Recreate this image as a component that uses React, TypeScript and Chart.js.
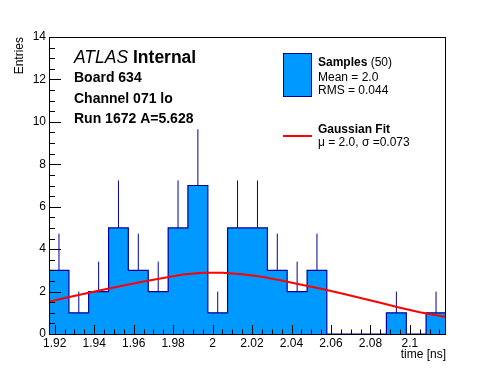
import { useEffect, useRef } from 'react';
import { Chart, registerables } from 'chart.js';

Chart.register(...registerables);

// ---- data ----
const binEdges = [
  1.9171, 1.9272, 1.9372, 1.9473, 1.9573, 1.9674, 1.9775, 1.9875, 1.9976, 2.0076,
  2.0177, 2.0278, 2.0378, 2.0479, 2.0579, 2.068, 2.0781, 2.0881, 2.0982, 2.1082, 2.1183,
];
const counts = [3, 1, 2, 5, 3, 2, 5, 7, 1, 5, 5, 3, 2, 3, 0, 0, 0, 1, 0, 1];
const errors = [1.73, 1, 1.41, 2.24, 1.73, 1.41, 2.24, 2.65, 1, 2.24, 2.24, 1.73, 1.41, 1.73, 0, 0, 0, 1, 0, 1];

const fitX = [
  1.9171, 1.925, 1.935, 1.945, 1.955, 1.965, 1.975, 1.985, 1.995, 2.005, 2.015,
  2.025, 2.035, 2.045, 2.055, 2.065, 2.075, 2.085, 2.095, 2.105, 2.1183,
];
const fitY = [
  1.52, 1.7, 1.9, 2.1, 2.29, 2.47, 2.64, 2.8, 2.89, 2.89, 2.82,
  2.7, 2.52, 2.32, 2.13, 1.92, 1.7, 1.47, 1.24, 1.03, 0.8,
];

const xTicks = [1.92, 1.94, 1.96, 1.98, 2.0, 2.02, 2.04, 2.06, 2.08, 2.1];
const xTickLabels = ['1.92', '1.94', '1.96', '1.98', '2', '2.02', '2.04', '2.06', '2.08', '2.1'];
const yTicks = [0, 2, 4, 6, 8, 10, 12, 14];
const yTickLabels = ['0', '2', '4', '6', '8', '10', '12', '14'];

const infoLines = ['Board 634', 'Channel 071 lo', 'Run 1672 A=5.628'];
const legendSamples = { title: 'Samples', n: ' (50)', mean: 'Mean = 2.0', rms: 'RMS = 0.044' };
const legendFit = { title: 'Gaussian Fit', params: 'μ = 2.0, σ =0.073' };

const FONT = "'Liberation Sans', Arial, Helvetica, sans-serif";
const FILL = '#0099ff';
const LINE = '#000099';

const decoPlugin = {
  id: 'rootDeco',
  afterDatasetsDraw(chart: any) {
    const { ctx, chartArea: a, scales } = chart;
    const x = scales.x;
    const y = scales.y;
    ctx.save();
    ctx.strokeStyle = '#000';
    ctx.lineWidth = 1;
    ctx.beginPath();
    for (let k = 0; ; k++) {
      const v = 1.92 + k * 0.005;
      if (v > x.max) break;
      const px = Math.round(x.getPixelForValue(v)) + 0.5;
      const len = k % 4 === 0 ? 9 : 4.5;
      ctx.moveTo(px, a.bottom);
      ctx.lineTo(px, a.bottom - len);
    }
    for (let k = 0; k <= 28; k++) {
      const py = Math.round(y.getPixelForValue(k * 0.5)) + 0.5;
      const len = k % 4 === 0 ? 12 : 6;
      ctx.moveTo(a.left, py);
      ctx.lineTo(a.left + len, py);
    }
    ctx.stroke();
    ctx.strokeRect(Math.round(a.left) + 0.5, Math.round(a.top) + 0.5, Math.round(a.right - a.left) - 1, Math.round(a.bottom - a.top));
    ctx.restore();
  },
  afterDraw(chart: any) {
    const { ctx } = chart;
    ctx.save();
    ctx.fillStyle = '#000';
    ctx.textBaseline = 'alphabetic';
    ctx.textAlign = 'left';
    // ATLAS Internal
    ctx.font = `italic 17.5px ${FONT}`;
    ctx.fillText('ATLAS', 74, 63);
    const w = ctx.measureText('ATLAS ').width;
    ctx.font = `bold 17.5px ${FONT}`;
    ctx.fillText('Internal', 74 + w, 63);
    ctx.font = `bold 14px ${FONT}`;
    const bases = [82, 103, 123];
    infoLines.forEach((t, i) => ctx.fillText(t, 74, bases[i]));

    // legend
    ctx.fillStyle = FILL;
    ctx.fillRect(283.5, 53.5, 28, 43);
    ctx.strokeStyle = LINE;
    ctx.lineWidth = 1;
    ctx.strokeRect(283.5, 53.5, 28, 43);
    ctx.fillStyle = '#000';
    ctx.font = `bold 12px ${FONT}`;
    ctx.fillText(legendSamples.title, 318, 66);
    const sw = ctx.measureText(legendSamples.title).width;
    ctx.font = `12px ${FONT}`;
    ctx.fillText(legendSamples.n, 318 + sw, 66);
    ctx.fillText(legendSamples.mean, 318, 80.5);
    ctx.fillText(legendSamples.rms, 318, 93.5);

    ctx.strokeStyle = '#ff0000';
    ctx.lineWidth = 2;
    ctx.beginPath();
    ctx.moveTo(283, 136);
    ctx.lineTo(312, 136);
    ctx.stroke();
    ctx.font = `bold 12px ${FONT}`;
    ctx.fillText(legendFit.title, 318, 133);
    ctx.font = `12px ${FONT}`;
    ctx.fillText(legendFit.params, 318, 146);
    ctx.restore();
  },
};

export default function App() {
  const ref = useRef<HTMLCanvasElement>(null);
  useEffect(() => {
    Chart.defaults.font.family = FONT;
    const histPoints = binEdges.map((e, i) => ({ x: e, y: counts[Math.min(i, counts.length - 1)] }));
    const errPoints: { x: number; y: number }[] = [];
    counts.forEach((c, i) => {
      if (c <= 0) return;
      const cx = (binEdges[i] + binEdges[i + 1]) / 2;
      errPoints.push({ x: cx, y: c }, { x: cx, y: c + errors[i] }, { x: cx, y: NaN });
    });
    const fitPoints = fitX.map((x, i) => ({ x, y: fitY[i] }));

    const chart = new Chart(ref.current!, {
      type: 'line',
      data: {
        datasets: [
          {
            label: 'Gaussian Fit',
            data: fitPoints,
            borderColor: '#ff0000',
            borderWidth: 2,
            pointRadius: 0,
            tension: 0,
            fill: false,
            order: 1,
          },
          {
            label: 'errors',
            data: errPoints,
            borderColor: LINE,
            borderWidth: 1,
            pointRadius: 0,
            spanGaps: false,
            fill: false,
            order: 2,
          },
          {
            label: 'Samples',
            data: histPoints,
            stepped: 'before',
            fill: 'origin',
            backgroundColor: FILL,
            borderColor: LINE,
            borderWidth: 1.2,
            pointRadius: 0,
            order: 3,
          },
        ] as any,
      },
      options: {
        animation: false,
        responsive: false,
        devicePixelRatio: 1,
        layout: { padding: { top: 37, right: 50, left: 0, bottom: 0 } },
        plugins: { legend: { display: false }, tooltip: { enabled: false } },
        events: [],
        scales: {
          x: {
            type: 'linear',
            min: binEdges[0],
            max: binEdges[binEdges.length - 1],
            grid: { display: false, drawTicks: false },
            border: { display: false },
            afterFit: (s: any) => { s.height = 38; },
            afterBuildTicks: (s: any) => { s.ticks = xTicks.map((v) => ({ value: v })); },
            ticks: {
              padding: 2,
              color: '#000',
              font: { size: 12 },
              maxRotation: 0,
              autoSkip: false,
              callback: (_v: any, i: number) => xTickLabels[i],
            },
            title: {
              display: true,
              text: 'time [ns]',
              align: 'end',
              color: '#000',
              font: { size: 12 },
              padding: { top: 0, bottom: 10 },
            },
          },
          y: {
            type: 'linear',
            min: 0,
            max: 14,
            grid: { display: false, drawTicks: false },
            border: { display: false },
            afterFit: (s: any) => { s.width = 49; },
            afterBuildTicks: (s: any) => { s.ticks = yTicks.map((v) => ({ value: v })); },
            ticks: {
              padding: 3,
              color: '#000',
              font: { size: 12 },
              autoSkip: false,
              callback: (_v: any, i: number) => yTickLabels[i],
            },
            title: {
              display: true,
              text: 'Entries',
              align: 'end',
              color: '#000',
              font: { size: 12 },
              padding: { top: 12, bottom: 0 },
            },
          },
        } as any,
      },
      plugins: [decoPlugin],
    } as any);
    return () => chart.destroy();
  }, []);

  return (
    <div style={{ position: 'absolute', left: 0, top: 0, width: 496, height: 372, background: '#fff' }}>
      <canvas ref={ref} width={496} height={372} style={{ display: 'block', width: 496, height: 372 }} />
    </div>
  );
}
